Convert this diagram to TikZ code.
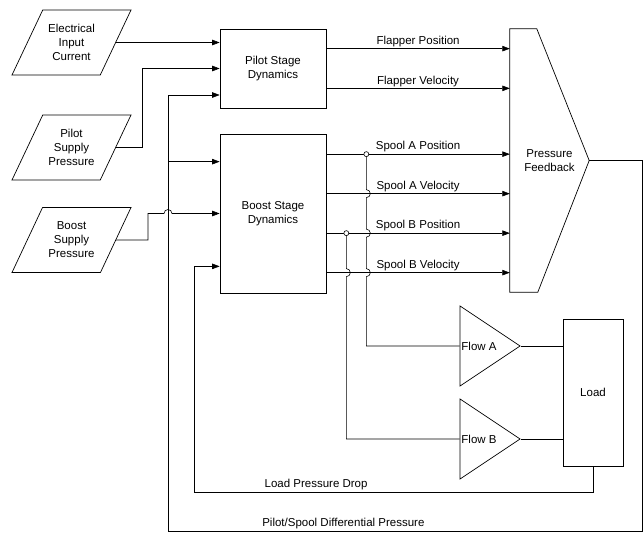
\documentclass[tikz,border=0pt]{standalone}
\usepackage{fontspec}
\setmainfont{Liberation Sans}
\usetikzlibrary{arrows.meta, positioning, shapes.geometric, calc}
\tikzset{
  arrowK/.style={-{Triangle[length=7.5pt,width=5.5pt]}, line width=0.6pt},
  lineK/.style={line width=0.6pt},
  inBox/.style={trapezium, trapezium left angle=64.5, trapezium right angle=115.5,
                trapezium stretches body=true, draw, line width=0.7pt, align=center,
                minimum width=119pt, minimum height=65pt, inner xsep=1pt, inner ysep=14pt},
  blockBox/.style={rectangle, draw, line width=0.7pt, align=center, minimum width=106pt},
  fbBox/.style={rectangle, align=center, minimum width=79pt, minimum height=263pt},
  ampTri/.style={isosceles triangle, isosceles triangle stretches=true, draw,
                 line width=0.7pt, minimum width=80pt, minimum height=60pt, inner sep=0pt},
  jDot/.style={circle, draw, fill=white, line width=0.6pt, inner sep=0pt, minimum size=5pt},
  sigLabel/.style={above, inner sep=1.5pt},
}

\begin{document}
\begin{tikzpicture}[x=1pt, y=-1pt, font=\fontsize{11.5}{14}\selectfont]
  \useasboundingbox (0,0) rectangle (643,533);
  % supply and command inputs
  \node[inBox] (elec) at (71.5,42.5) {Electrical\\Input\\Current};
  \node[inBox] (psup) at (71.5,147.5) {Pilot\\Supply\\Pressure};
  \node[inBox] (bsup) at (71.5,240) {Boost\\Supply\\Pressure};
  % valve stages
  \node[blockBox, minimum height=79pt] (pilot) at (273,68.5) {Pilot Stage\\Dynamics};
  \node[blockBox, minimum height=159pt] (boost) at (273,213.5) {Boost Stage\\Dynamics};
  \node[fbBox] (pfb) at (549.5,160.5) {Pressure\\Feedback};
  \draw[line width=0.7pt] (pfb.north west) -- ++(27,0) -- (pfb.east)
    -- ([xshift=28pt]pfb.south west) -- (pfb.south west) -- cycle;
  \node[ampTri, anchor=apex, label={[anchor=west, inner sep=1.5pt]west:Flow A}] (flowA) at (521,346) {};
  \node[ampTri, anchor=apex, label={[anchor=west, inner sep=1.5pt]west:Flow B}] (flowB) at (521,439) {};
  \node[blockBox, minimum width=60pt, minimum height=147pt] (load) at (593,392.5) {Load};

  % pilot stage inputs
  \draw[arrowK] (elec.east) -- (elec.east -| pilot.west);
  \coordinate (pBend) at (142,68.5);
  \draw[arrowK] (psup.east) -| (pBend) -- (pBend -| pilot.west);
  \coordinate (bBend) at (148,213.5);
  \draw[arrowK] (bsup.east) -| (bBend) -- (164,213.5)
    arc[start angle=180, end angle=0, radius=4pt] -- (bBend -| boost.west);

  % feedback loops
  \coordinate (dpR) at (642,531);
  \coordinate (dpL) at (168,531);
  \coordinate (bIn1) at ([yshift=-28pt]boost.north west);
  \coordinate (bIn3) at ([yshift=27pt]boost.south west);
  \coordinate (ldL) at (194,492);
  \draw[arrowK] (pfb.east) -| (dpR) -- node[sigLabel, pos=0.63] {Pilot/Spool Differential Pressure} (dpL)
    |- ([yshift=-26.5pt]pilot.west);
  \draw[arrowK] (dpL |- bIn1) -- (bIn1);
  \draw[arrowK] (load.south) |- node[sigLabel, pos=0.847] {Load Pressure Drop} (ldL) |- (bIn3);

  % stage outputs
  \coordinate (fPos) at ([yshift=-20pt]pilot.north east);
  \coordinate (fVel) at ([yshift=20pt]pilot.south east);
  \draw[arrowK] (fPos) -- node[sigLabel] {Flapper Position} (fPos -| pfb.west);
  \draw[arrowK] (fVel) -- node[sigLabel] {Flapper Velocity} (fVel -| pfb.west);
  \foreach \nm/\dy/\txt in {sAP/20.5/Spool A Position, sAV/60/Spool A Velocity,
                            sBP/99.5/Spool B Position, sBV/139/Spool B Velocity} {
    \coordinate (\nm) at ([yshift=-\dy pt]boost.north east);
    \draw[arrowK] (\nm) -- node[sigLabel] {\txt} (\nm -| pfb.west);
  }

  % spool taps to the flow gains
  \path (sAP) ++(40,0) node[jDot] (jA) {};
  \path (sBP) ++(20,0) node[jDot] (jB) {};
  \draw[lineK] (jA.south) \foreach \s in {sAV,sBP,sBV} {
      -- ([yshift=4pt]jA |- \s) arc[start angle=90, end angle=-90, radius=4pt] }
    |- (flowA.lower side);
  \draw[lineK] (jB.south) -- ([yshift=4pt]jB |- sBV)
    arc[start angle=90, end angle=-90, radius=4pt] |- (flowB.lower side);
  \draw[lineK] (flowA.apex) -- (flowA.apex -| load.west);
  \draw[lineK] (flowB.apex) -- (flowB.apex -| load.west);
\end{tikzpicture}
\end{document}
